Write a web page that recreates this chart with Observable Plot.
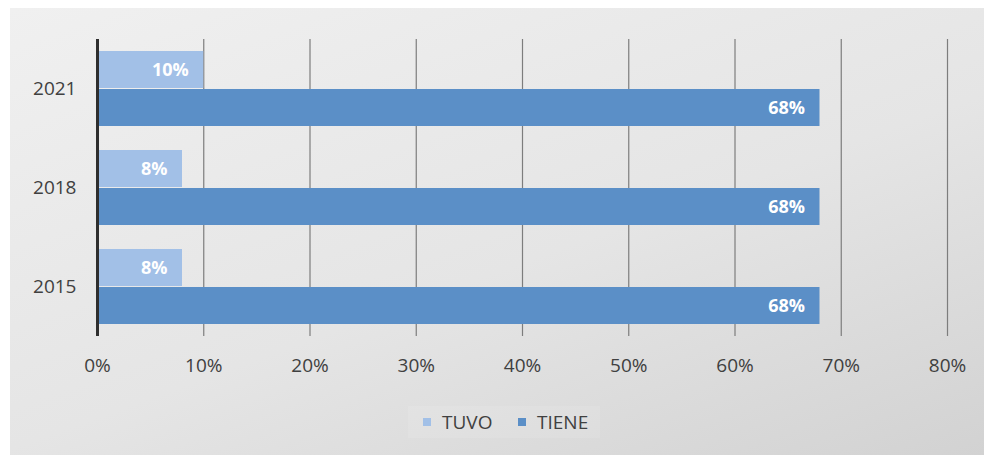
<!DOCTYPE html>
<html><head><meta charset="utf-8">
<script src="https://cdn.jsdelivr.net/npm/d3@7"></script>
<script src="https://cdn.jsdelivr.net/npm/@observablehq/plot@0.6"></script>
<style>
body{margin:0;background:#fff;width:984px;height:455px;overflow:hidden;position:relative;font-family:"Open Sans",sans-serif}
#panel{position:absolute;left:10px;top:8px;width:974px;height:447px;background:linear-gradient(160deg,#f0f0f0 0%,#e5e5e5 55%,#d2d2d2 100%)}
#chart{position:absolute;left:0;top:0}
#legend{position:absolute;left:408px;top:406px;width:192px;height:32px;background:rgba(255,255,255,0.1);font-size:19px;color:#404040}
.sw{position:absolute;width:8px;height:8px;top:12px}
.lt{position:absolute;top:3px}
</style></head>
<body>
<div id="panel"></div>
<div id="chart"></div>
<div id="legend"></div>
<script>
const years = ["2021", "2018", "2015"];
const series = ["TUVO", "TIENE"];
const tuvo = [10, 8, 8];
const tiene = [68, 68, 68];
const xTicks = [0, 10, 20, 30, 40, 50, 60, 70, 80];
const colors = ["#a2c0e7", "#5b8fc7"];

const rows = years.flatMap((y, i) => [
  {year: y, serie: series[0], value: tuvo[i] / 100},
  {year: y, serie: series[1], value: tiene[i] / 100}
]);

const font = "'Open Sans', sans-serif";
const chart = Plot.plot({
  width: 984, height: 400,
  marginLeft: 97, marginRight: 37, marginTop: 39, marginBottom: 64,
  style: {background: "transparent", fontFamily: font, fontSize: "19px", color: "#404040"},
  x: {domain: [0, 0.8], ticks: xTicks.map(d => d / 100), tickFormat: d => Math.round(d * 100) + "%", tickSize: 0, tickPadding: 22, label: null},
  fy: {domain: years, padding: 0, label: null, tickSize: 0, tickPadding: 21, axis: "left"},
  y: {domain: series, axis: null, paddingInner: 0.03, paddingOuter: 0.3},
  color: {domain: series, range: colors},
  marks: [
    Plot.ruleX(xTicks.slice(1).map(d => d / 100), {stroke: "#7d7d7d", strokeWidth: 1.2}),
    Plot.barX(rows, {x: "value", y: "serie", fy: "year", fill: "serie"}),
    Plot.ruleX([0], {stroke: "#2e2e2e", strokeWidth: 3}),
    Plot.text(rows, {x: "value", y: "serie", fy: "year", text: d => Math.round(d.value * 100) + "%", textAnchor: "end", dx: -15, fill: "white", fontWeight: "bold", fontSize: 18})
  ]
});
document.getElementById("chart").appendChild(chart);

const legend = document.getElementById("legend");
const swX = [15, 110];
series.forEach((s, i) => {
  const sw = document.createElement("span");
  sw.className = "sw";
  sw.style.left = swX[i] + "px";
  sw.style.background = colors[i];
  legend.appendChild(sw);
  const t = document.createElement("span");
  t.className = "lt";
  t.style.left = (swX[i] + 19) + "px";
  t.textContent = s;
  legend.appendChild(t);
});
</script>
</body></html>
